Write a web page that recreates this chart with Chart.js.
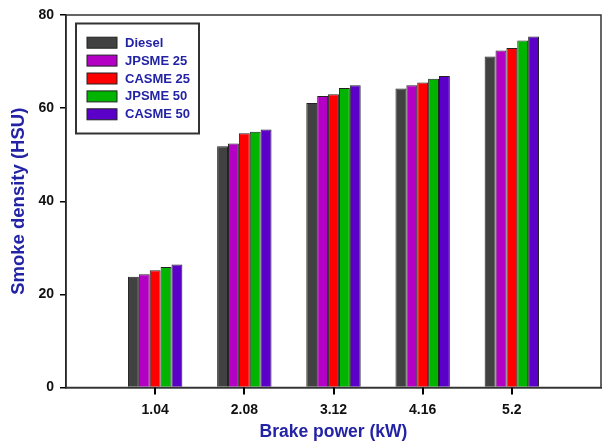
<!DOCTYPE html>
<html lang="en">
<head>
  <meta charset="UTF-8">
  <title>Smoke density vs Brake power</title>
  <script src="https://cdn.jsdelivr.net/npm/chart.js@4.4.0/dist/chart.umd.min.js"></script>
  <style>
    html, body { margin: 0; padding: 0; background: #fff; }
    #chartContainer { width: 603px; height: 443px; }
  </style>
</head>
<body>
  <div id="chartContainer">
    <canvas id="smokeChart"></canvas>
  </div>

  <script>
    // empty slots at both ends keep the frame one category wider on each side
    const powerLabels = ['', '1.04', '2.08', '3.12', '4.16', '5.2', ''];

    const diesel  = [null, 23.8, 51.8, 61.1, 64.2, 71.1, null];
    const jpsme25 = [null, 24.3, 52.4, 62.6, 64.9, 72.4, null];
    const casme25 = [null, 25.2, 54.6, 63.0, 65.5, 72.9, null];
    const jpsme50 = [null, 25.9, 54.9, 64.3, 66.3, 74.5, null];
    const casme50 = [null, 26.4, 55.4, 64.9, 66.9, 75.4, null];

    const seriesNames  = ['Diesel', 'JPSME 25', 'CASME 25', 'JPSME 50', 'CASME 50'];
    const seriesColors = ['#414141', '#b400c4', '#ff0000', '#00b400', '#5a00c8'];
    const seriesData   = [diesel, jpsme25, casme25, jpsme50, casme50];

    const blueText = '#2323a6';
    const fontFamily = 'Arial, "Liberation Sans", sans-serif';

    // frame round the plot area, plus the tick marks under each category
    const framePlugin = {
      id: 'frame',
      afterDraw(chart) {
        const { ctx, chartArea: a } = chart;
        const xScale = chart.scales.x;
        ctx.save();
        ctx.strokeStyle = '#333';
        ctx.lineWidth = 1.5;
        ctx.strokeRect(a.left, a.top, a.right - a.left, a.bottom - a.top);
        ctx.fillStyle = '#000';
        powerLabels.forEach((lab, i) => {
          if (!lab) return;
          const px = Math.round(xScale.getPixelForValue(i));
          ctx.fillRect(px - 1, a.bottom, 2, 7);
        });
        ctx.restore();
      }
    };

    // boxed legend inside the top-left corner
    const boxLegend = {
      id: 'boxLegend',
      afterDraw(chart) {
        const ctx = chart.ctx;
        ctx.save();
        ctx.fillStyle = '#fff';
        ctx.fillRect(76, 23.5, 123, 110);
        ctx.strokeStyle = '#333';
        ctx.lineWidth = 2;
        ctx.strokeRect(76, 23.5, 123, 110);
        ctx.font = 'bold 13px ' + fontFamily;
        ctx.textBaseline = 'middle';
        chart.data.datasets.forEach((ds, i) => {
          const cy = 42.7 + i * 17.9;
          ctx.fillStyle = ds.backgroundColor;
          ctx.fillRect(87, cy - 5.5, 30, 11);
          ctx.strokeStyle = '#222';
          ctx.lineWidth = 1;
          ctx.strokeRect(87, cy - 5.5, 30, 11);
          ctx.fillStyle = blueText;
          ctx.fillText(ds.label, 125, cy + 0.5);
        });
        ctx.restore();
      }
    };

    const datasets = seriesNames.map((name, i) => ({
      label: name,
      data: seriesData[i],
      backgroundColor: seriesColors[i],
      borderColor: '#222',
      borderWidth: 1,
      categoryPercentage: 0.61,
      barPercentage: 1.0
    }));

    new Chart(document.getElementById('smokeChart'), {
      type: 'bar',
      data: { labels: powerLabels, datasets },
      options: {
        responsive: true,
        maintainAspectRatio: false,
        animation: false,
        layout: { padding: { left: 0, right: 2, top: 15, bottom: 0 } },
        plugins: {
          legend: { display: false },
          tooltip: { enabled: false }
        },
        scales: {
          x: {
            offset: false,
            grid: { display: false, offset: false, drawTicks: true, tickLength: 6 },
            border: { color: '#000', width: 1.5 },
            ticks: {
              color: '#111',
              padding: 8,
              maxRotation: 0,
              font: { family: fontFamily, size: 14, weight: 'bold' }
            },
            title: {
              display: true,
              text: 'Brake power (kW)',
              color: blueText,
              padding: { top: 0, bottom: 0.5 },
              font: { family: fontFamily, size: 17.5, weight: 'bold' }
            },
            afterFit(scale) {
              scale.height = 55.5;
              scale.paddingLeft = 0;
              scale.paddingRight = 0;
            }
          },
          y: {
            min: 0,
            max: 80,
            grid: { drawOnChartArea: false, drawTicks: true, tickLength: 6, color: '#000', lineWidth: 1.5 },
            border: { color: '#000', width: 1.5 },
            ticks: {
              stepSize: 20,
              color: '#111',
              padding: 6,
              font: { family: fontFamily, size: 14, weight: 'bold' }
            },
            title: {
              display: true,
              text: 'Smoke density (HSU)',
              color: blueText,
              padding: { top: 7.4, bottom: 0 },
              font: { family: fontFamily, size: 18.5, weight: 'bold' }
            },
            afterFit(scale) { scale.width = 66; }
          }
        }
      },
      plugins: [framePlugin, boxLegend]
    });
  </script>
</body>
</html>
